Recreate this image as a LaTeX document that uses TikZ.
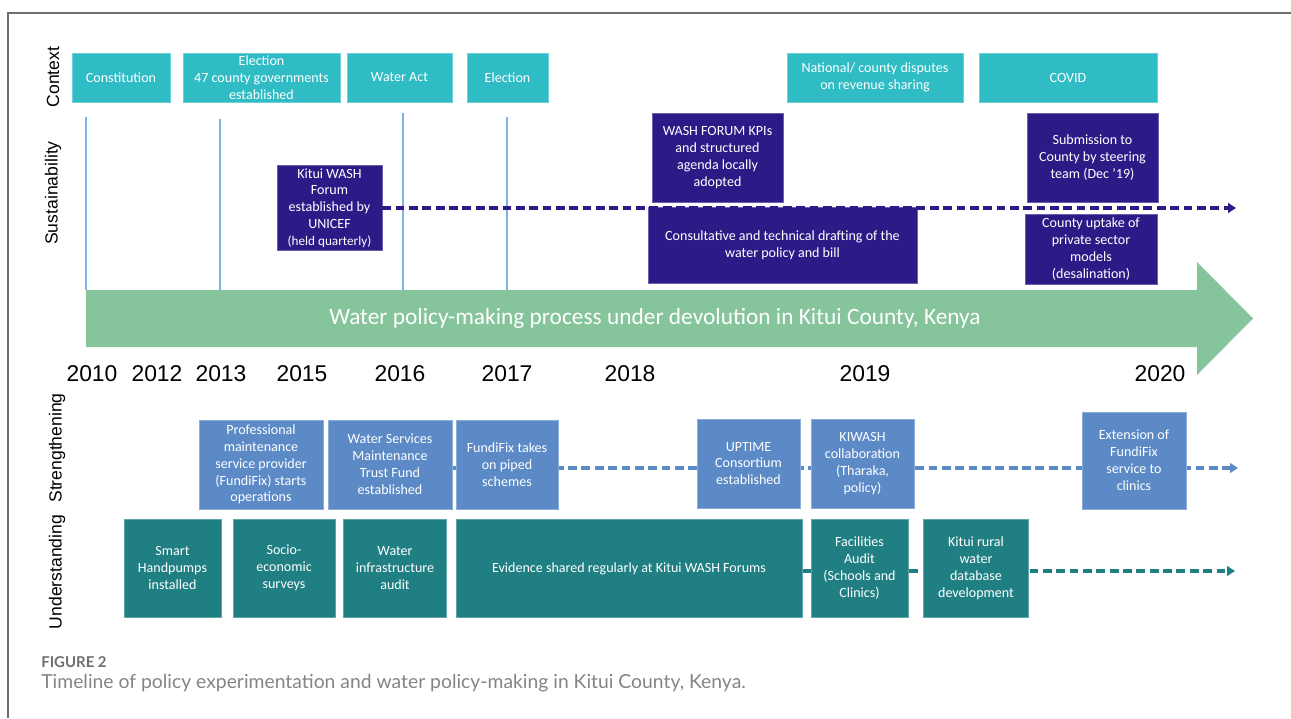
\documentclass[tikz,border=0pt]{standalone}
\usepackage{fontspec}
\setmainfont{Carlito}
\newfontfamily\arialfont{Liberation Sans}
\newfontfamily\legendefont{Lato}
\usetikzlibrary{arrows.meta}
\definecolor{turquoise}{HTML}{2FBCC4}
\definecolor{indigo}{HTML}{2E1A87}
\definecolor{bleu}{HTML}{5B8AC6}
\definecolor{sarcelle}{HTML}{1F7F82}
\definecolor{vert}{HTML}{86C49C}
\definecolor{filet}{HTML}{7FB2E5}
\definecolor{gris}{HTML}{6E6E6E}
\tikzset{
    boite/.style={fill=#1, draw=#1!70!white, line width=0.4pt, text=white, align=center,
        font=\fontsize{8}{9.6}\selectfont, inner sep=1pt},
    ctx/.style={boite=turquoise, minimum height=0.98cm},
    dur/.style={boite=indigo},
    renf/.style={boite=bleu},
    compr/.style={boite=sarcelle, minimum height=1.96cm},
    piste/.style={rotate=90, font=\arialfont\fontsize{10}{12}\selectfont},
    annee/.style={font=\arialfont\fontsize{13}{15}\selectfont},
    pointille/.style={draw=#1, line width=2pt, dash pattern=on 5pt off 2.6pt,
        -{Triangle[length=4.5pt,width=5.5pt]}}
}
\begin{document}
\begin{tikzpicture}[x=0.02cm, y=-0.02cm]
                \useasboundingbox (0,0) rectangle (1291,718);
                \draw [gris, line width=0.8pt] (8,718)--(8,13)--(1291,13);%cadre
                % pistes
                \node (lblCtx) at (53,77) [piste] {Context};
                \node (lblSus) at (53,193) [piste] {Sustainability};
                \node (lblRenf) at (57,448) [piste] {Strengthening};
                \node (lblCompr) at (57,572) [piste] {Understanding};
                % contexte
                \node (ctxConst) at (121,77.5) [ctx, minimum width=1.96cm] {Constitution};
                \node (ctxElec) at (261.5,77.5) [ctx, minimum width=3.14cm] {Election\\47 county governments\\established};
                \node (ctxEau) at (399.5,77.5) [ctx, minimum width=2.10cm] {Water Act};
                \node (ctxElec2) at (507.5,77.5) [ctx, minimum width=1.62cm] {Election};
                \node (ctxConflit) at (875,77.5) [ctx, minimum width=3.52cm] {National/ county disputes\\on revenue sharing};
                \node (ctxCovid) at (1068,77.5) [ctx, minimum width=3.56cm] {COVID};
                \foreach \x/\y in {86/117, 220/119, 403/113, 507/117}
                    \draw [filet, line width=0.6pt] (\x,\y)--(\x,290);
                % grande fleche
                \fill [vert] (86,290)--(1197,290)--(1197,262)--(1253,318.5)--(1197,375)--(1197,347)--(86,347)--cycle;
                \node (titre) at (655,318) [text=white, font=\fontsize{13.3}{16}\selectfont] {Water policy-making process under devolution in Kitui County, Kenya};
                \foreach \an/\x in {2010/92, 2012/157, 2013/221, 2015/302, 2016/400, 2017/507, 2018/630, 2019/865, 2020/1160}
                    \node (an\an) at (\x,374) [annee] {\an};
                % durabilite
                \node (susForum) at (329.5,208) [dur, minimum width=2.10cm, minimum height=1.70cm] {Kitui WASH\\Forum\\established by\\UNICEF\\{\fontsize{7.5}{9.6}\selectfont(held quarterly)}};
                \node (susKPI) at (717.5,157.5) [dur, minimum width=2.62cm, minimum height=1.78cm] {WASH FORUM KPIs\\and structured\\agenda locally\\adopted};
                \node (susRedac) at (782.5,245) [dur, minimum width=5.38cm, minimum height=1.52cm] {Consultative and technical drafting of the\\water policy and bill};
                \node (susSoum) at (1092.5,157.5) [dur, minimum width=2.62cm, minimum height=1.78cm] {Submission to\\County by steering\\team (Dec ’19)};
                \node (susPrive) at (1091,249) [dur, minimum width=2.64cm, minimum height=1.40cm] {County uptake of\\private sector\\models\\(desalination)};
                \coordinate (finSus) at (1236,208);
                \draw [pointille=indigo] (susForum.east)--(finSus);
                % renforcement
                \coordinate (finRenf) at (1238,468);
                \draw [pointille=bleu, line width=1.8pt] (261,468)--(finRenf);
                \node (stPro) at (261,464.5) [renf, minimum width=2.48cm, minimum height=1.78cm] {Professional\\maintenance\\service provider\\(FundiFix) starts\\operations};
                \node (stFonds) at (390,464.5) [renf, minimum width=2.48cm, minimum height=1.78cm] {Water Services\\Maintenance\\Trust Fund\\established};
                \node (stReseau) at (507,464.5) [renf, minimum width=2.04cm, minimum height=1.78cm] {FundiFix takes\\on piped\\schemes};
                \node (stUptime) at (748.5,463.5) [renf, minimum width=2.06cm, minimum height=1.78cm] {UPTIME\\Consortium\\established};
                \node (stKiwash) at (862.5,463.5) [renf, minimum width=2.06cm, minimum height=1.78cm] {KIWASH\\collaboration\\(Tharaka,\\policy)};
                \node (stExt) at (1134,460.5) [renf, minimum width=2.08cm, minimum height=1.94cm] {Extension of\\FundiFix\\service to\\clinics};
                % comprehension
                \coordinate (finCompr) at (1235,571);
                \draw [pointille=sarcelle, line width=1.9pt] (629,571)--(finCompr);
                \node (unPompes) at (172.5,568) [compr, minimum width=1.94cm] {Smart\\Handpumps\\installed};
                \node (unSocio) at (284,568) [compr, minimum width=2.04cm] {Socio-\\economic\\surveys};
                \node (unInfra) at (395,568) [compr, minimum width=2.06cm] {Water\\infrastructure\\audit};
                \node (unPreuve) at (629,568.5) [compr, minimum width=6.92cm] {Evidence shared regularly at Kitui WASH Forums};
                \node (unAudit) at (859.5,568) [compr, minimum width=1.94cm] {Facilities\\Audit\\(Schools and\\Clinics)};
                \node (unBase) at (976,568) [compr, minimum width=2.10cm] {Kitui rural\\water\\database\\development};
                % legende
                \node (figNum) at (41,662) [anchor=west, inner sep=0, text=gris, font=\legendefont\bfseries\fontsize{8.5}{10}\selectfont] {FIGURE 2};
                \node (figLeg) at (41,683) [anchor=west, inner sep=0, text=gris!85, font=\legendefont\fontsize{11}{13}\selectfont] {Timeline of policy experimentation and water policy-making in Kitui County, Kenya.};
\end{tikzpicture}
\end{document}
